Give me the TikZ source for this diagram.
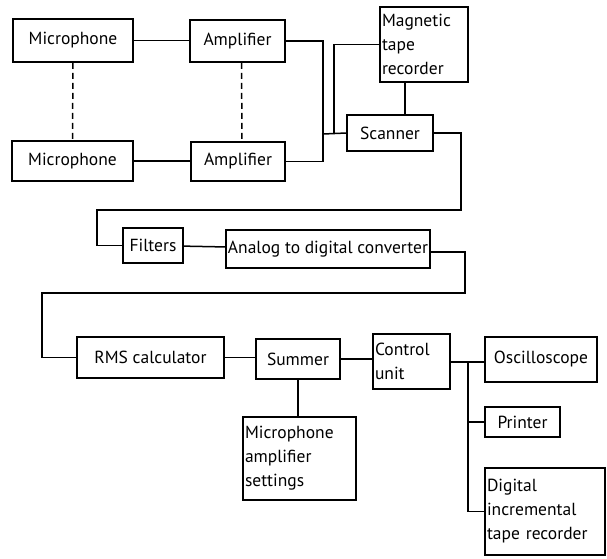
\documentclass[tikz,border=0pt]{standalone}
\usepackage{fontspec}
\setmainfont{PT Sans}
\usetikzlibrary{positioning}

\tikzset{
 blk/.style={draw,line width=1.5pt,inner sep=2pt,font=\fontsize{17.5}{24}\selectfont},
 blkl/.style={blk,align=left,text width=#1},
 wire/.style={line width=1.5pt}
}

\begin{document}
\begin{tikzpicture}[x=1pt,y=-1pt]
 \useasboundingbox (0,0) rectangle (607,558);
 % front end
 \node[blk,minimum width=120pt,minimum height=43pt] (mic1) at (73,40.5) {Microphone};
 \node[blk,minimum width=95pt,minimum height=42pt] (amp1) at (237.5,41) {Amplifier};
 \node[blk,minimum width=121pt,minimum height=40pt] (mic2) at (72.5,161) {Microphone};
 \node[blk,minimum width=94pt,minimum height=39pt] (amp2) at (238,161.5) {Amplifier};
 \node[blkl=84pt,minimum height=75pt] (tape) at (424,44.5) {Magnetic\\tape\\recorder};
 \node[blk,minimum width=86pt,minimum height=36pt] (scan) at (390,133) {Scanner};
 % conversion
 \node[blk,minimum width=60pt,minimum height=35pt] (filt) at (153,245.5) {Filters};
 \node[blk,minimum width=204pt,minimum height=38pt] (adc) at (328,249) {Analog to digital converter};
 % processing
 \node[blk,minimum width=147pt,minimum height=41pt] (rms) at (150.5,357.5) {RMS calculator};
 \node[blk,minimum width=84pt,minimum height=40pt] (sum) at (298,359) {Summer};
 \node[blkl=73pt,minimum height=55pt] (ctrl) at (411.5,361.5) {Control\\unit};
 \node[blkl=109pt,minimum height=83pt] (set) at (299.5,458.5) {Microphone\\amplifier\\settings};
 % outputs
 \node[blk,minimum width=112pt,minimum height=45pt] (osc) at (541,359.5) {Oscilloscope};
 \node[blk,minimum width=75pt,minimum height=30pt] (prn) at (522.5,422) {Printer};
 \node[blkl=116pt,minimum height=87pt] (dig) at (545,511.5) {Digital\\incremental\\tape recorder};

 \coordinate (bus) at (323,134);
 \coordinate (tap) at (334,134);
 \coordinate (c1) at (461,210);
 \coordinate (c2) at (97,210);
 \coordinate (c3) at (465,293);
 \coordinate (c4) at (42,293);
 \coordinate (out) at (468,362);

 \draw[wire] (mic1.east) -- (mic1.east -| amp1.west);
 \draw[wire] (mic2.east) -- (mic2.east -| amp2.west);
 \draw[wire,dashed,dash pattern=on 6pt off 4pt] (mic1) -- (mic2);
 \draw[wire,dashed,dash pattern=on 6pt off 4pt] ([xshift=4pt]amp1.south) -- ([xshift=4pt]amp2.north);
 \draw[wire] (amp1.east) -| (bus);
 \draw[wire] (amp2.east) -| (bus);
 \draw[wire] (bus) -- (scan.west);
 \draw[wire] (tape.west) -| (tap);
 \draw[wire] ([xshift=-19pt]tape.south) -- ([xshift=15pt]scan.north);
 \draw[wire] (scan.east) -| (c1) -- (c2) |- (filt.west);
 \draw[wire] (filt) -- (adc);
 \draw[wire] ([yshift=-3pt]adc.east) -| (c3) -- (c4) |- (rms.west);
 \draw[wire] (rms.east) -- (rms.east -| sum.west);
 \draw[wire] (sum.east) -- (sum.east -| ctrl.west);
 \draw[wire] (sum.south) -- (sum.south |- set.north);
 \draw[wire] (out -| ctrl.east) -- (out -| osc.west);
 \draw[wire] (out) |- (dig.west);
 \draw[wire] (prn.west) -- (prn.west -| out);
\end{tikzpicture}
\end{document}
